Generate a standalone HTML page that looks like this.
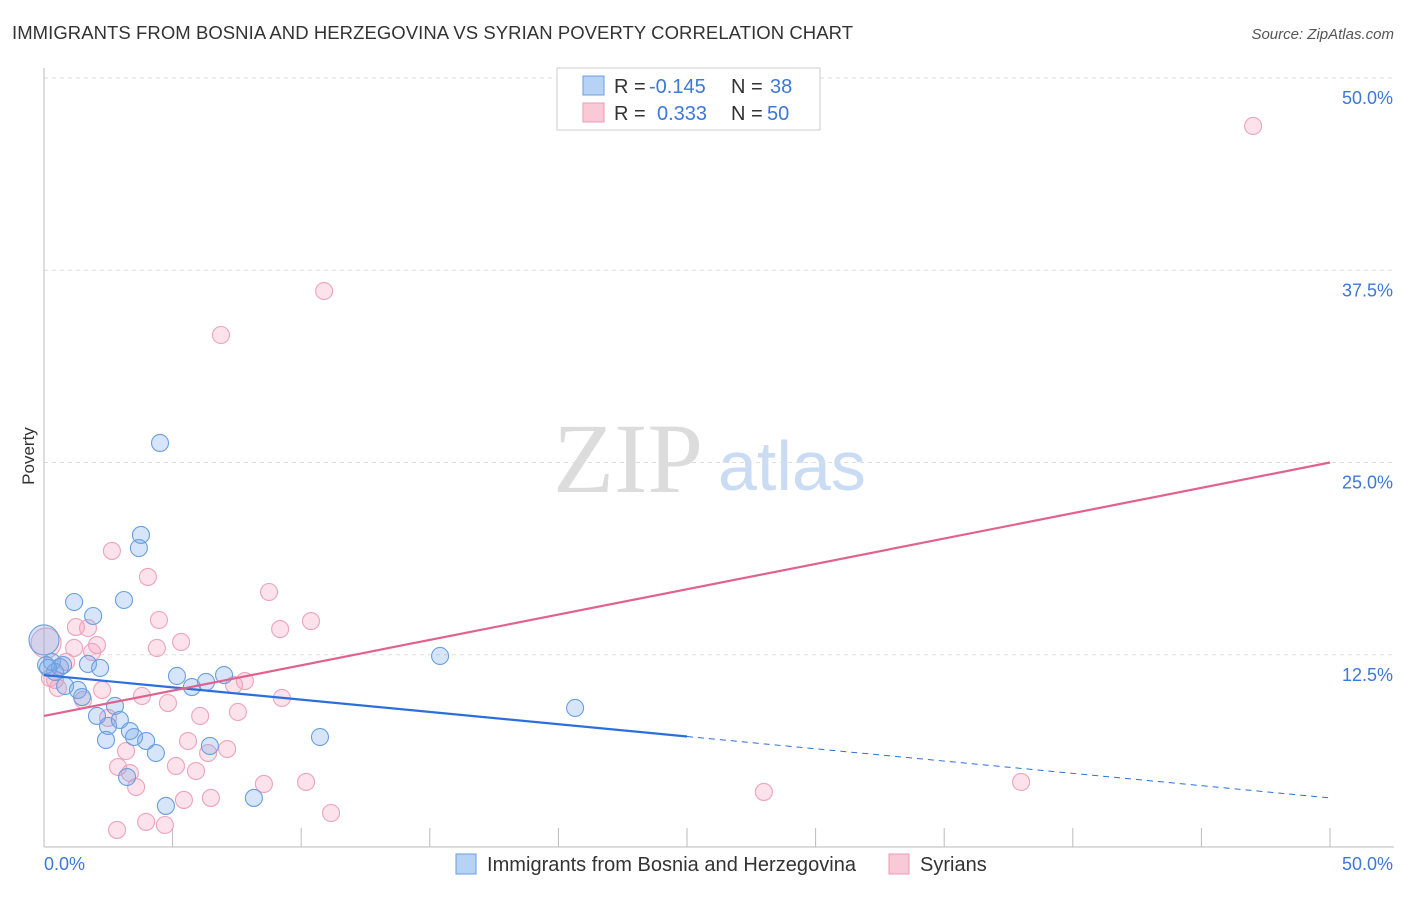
<!DOCTYPE html>
<html><head><meta charset="utf-8"><style>
body{margin:0;background:#fff;font-family:"Liberation Sans",sans-serif}
</style></head><body>
<svg width="1406" height="892" font-family="Liberation Sans, sans-serif">
<text x="12" y="39" font-size="18.5" fill="#333" textLength="841">IMMIGRANTS FROM BOSNIA AND HERZEGOVINA VS SYRIAN POVERTY CORRELATION CHART</text>
<text x="1394" y="39" font-size="15" fill="#555" font-style="italic" text-anchor="end">Source: ZipAtlas.com</text>
<text x="34" y="456" font-size="17" fill="#333" transform="rotate(-90 34 456)" text-anchor="middle">Poverty</text>
<text x="553" y="492" font-size="100" fill="#dcdcdc" style="font-family:'Liberation Serif',serif">ZIP</text>
<text x="718" y="490" font-size="70" fill="#c9dcf3">atlas</text>
<g id="grid"></g><g id="axes"></g><g id="marks"></g><g id="lines"></g>
<g>
<rect x="557" y="68" width="263" height="62" fill="#fff" stroke="#ccc"/>
<rect x="583" y="76" width="21" height="19" fill="#b6d2f5" stroke="#6a9fe0"/>
<rect x="583" y="103" width="21" height="19" fill="#f9c9d8" stroke="#eb9ab5"/>
<text x="614" y="93" font-size="20" fill="#333">R = <tspan fill="#3c78d8" x="649">-0.145</tspan><tspan x="731">N = </tspan><tspan fill="#3c78d8" x="770">38</tspan></text>
<text x="614" y="120" font-size="20" fill="#333">R = <tspan fill="#3c78d8" x="657">0.333</tspan><tspan x="731">N = </tspan><tspan fill="#3c78d8" x="767">50</tspan></text>
</g>
<g>
<rect x="456" y="854" width="20" height="20" fill="#b6d2f5" stroke="#6a9fe0"/>
<text x="487" y="871" font-size="20" fill="#333" textLength="369">Immigrants from Bosnia and Herzegovina</text>
<rect x="889" y="854" width="20" height="20" fill="#f9c9d8" stroke="#eb9ab5"/>
<text x="920" y="871" font-size="20" fill="#333">Syrians</text>
</g>
</svg>
<script>
const yTicks=[12.5,25,37.5,50];
const yTickLabels=["12.5%","25.0%","37.5%","50.0%"];
const xTickLabels=["0.0%","50.0%"];
const blueX=[4.51,3.77,3.69,1.17,3.11,1.91,0.31,0.62,1.71,2.18,0.43,0.74,0.82,1.32,1.48,5.17,5.75,6.30,7.00,2.76,2.06,2.49,2.95,3.34,3.50,2.41,3.97,4.35,6.45,3.23,4.74,8.16,10.73,15.40,20.65,0.08,0.0,0.16];
const blueY=[26.27,20.29,19.44,15.93,16.06,15.02,12.03,11.70,11.90,11.64,11.38,11.83,10.47,10.21,9.75,11.12,10.40,10.73,11.18,9.17,8.52,7.87,8.26,7.54,7.15,6.96,6.89,6.11,6.57,4.55,2.67,3.19,7.15,12.42,9.04,11.83,13.46,11.64];
const blueBig=[36];
const pinkX=[47.01,10.89,6.88,2.64,4.04,8.75,4.47,10.38,9.18,1.24,1.71,5.33,2.06,1.17,4.39,1.87,0.86,0.08,0.43,0.54,2.26,1.52,3.81,4.82,7.39,7.81,7.54,9.25,6.07,5.60,7.12,6.38,3.19,2.88,3.34,5.13,5.91,3.58,8.55,10.19,6.49,5.44,3.97,4.70,2.84,11.16,27.99,37.99,0.23,2.49];
const pinkY=[46.88,36.15,33.29,19.25,17.56,16.58,14.76,14.69,14.17,14.30,14.24,13.33,13.13,12.94,12.94,12.68,12.03,13.26,10.86,10.34,10.21,9.56,9.82,9.36,10.53,10.79,8.78,9.69,8.52,6.89,6.37,6.11,6.24,5.20,4.81,5.27,4.94,3.90,4.10,4.23,3.19,3.06,1.63,1.43,1.11,2.21,3.58,4.23,10.99,8.39];
const pinkBig=[17];
const blueTrend=[11.18,3.19];
const pinkTrend=[8.52,25.0];
const NS="http://www.w3.org/2000/svg";
const xs=v=>44+v*25.72, ys=v=>847-v*15.38;
function mk(t,a,p){const e=document.createElementNS(NS,t);for(const k in a)e.setAttribute(k,a[k]);p.appendChild(e);return e;}
const grid=document.getElementById('grid'),axes=document.getElementById('axes'),marks=document.getElementById('marks'),lines=document.getElementById('lines');
yTicks.forEach((v,i)=>{
 const l=mk('line',{x1:44,x2:1394,y1:ys(v),y2:ys(v),stroke:'#ddd','stroke-dasharray':'4,4'},grid);
 
 
 const t=mk('text',{x:1393,y:ys(v)+26,'font-size':18,fill:'#3c78d8','text-anchor':'end'},axes);
 t.textContent=yTickLabels[i];
 
 
});
mk('line',{x1:44,x2:44,y1:68,y2:847,stroke:'#bbb'},axes);
mk('line',{x1:44,x2:1394,y1:847,y2:847,stroke:'#bbb'},axes);
for(let i=1;i<=10;i++){const x=xs(i*5);const l=mk('line',{x1:x,x2:x,y1:828,y2:847,stroke:'#bbb'},axes);}
const t0=mk('text',{x:44,y:870,'font-size':18,fill:'#3c78d8'},axes);t0.textContent=xTickLabels[0];


const t1=mk('text',{x:1393,y:870,'font-size':18,fill:'#3c78d8','text-anchor':'end'},axes);t1.textContent=xTickLabels[1];


function pts(X,Y,big,fill,stroke,name){X.forEach((x,i)=>{const c=mk('circle',{cx:xs(x),cy:ys(Y[i]),r:big.includes(i)?15:8.5,fill:fill,stroke:stroke,'stroke-width':1.1},marks);
 
 });}
pts(pinkX,pinkY,pinkBig,'rgba(244,160,188,0.3)','#eda3bc','syrians-point');
pts(blueX,blueY,blueBig,'rgba(120,170,235,0.3)','#6a9fe0','bosnia-point');
const bm=blueTrend[0]+(blueTrend[1]-blueTrend[0])*0.5;
const b1=mk('line',{x1:xs(0),y1:ys(blueTrend[0]),x2:xs(25),y2:ys(bm),stroke:'#2a6fdb','stroke-width':2.2},lines);


const b2=mk('line',{x1:xs(25),y1:ys(bm),x2:xs(50),y2:ys(blueTrend[1]),stroke:'#2a6fdb','stroke-width':1,'stroke-dasharray':'6,5'},lines);


const p1=mk('line',{x1:xs(0),y1:ys(pinkTrend[0]),x2:xs(50),y2:ys(pinkTrend[1]),stroke:'#e2628f','stroke-width':2.2},lines);


</script>
</body></html>
